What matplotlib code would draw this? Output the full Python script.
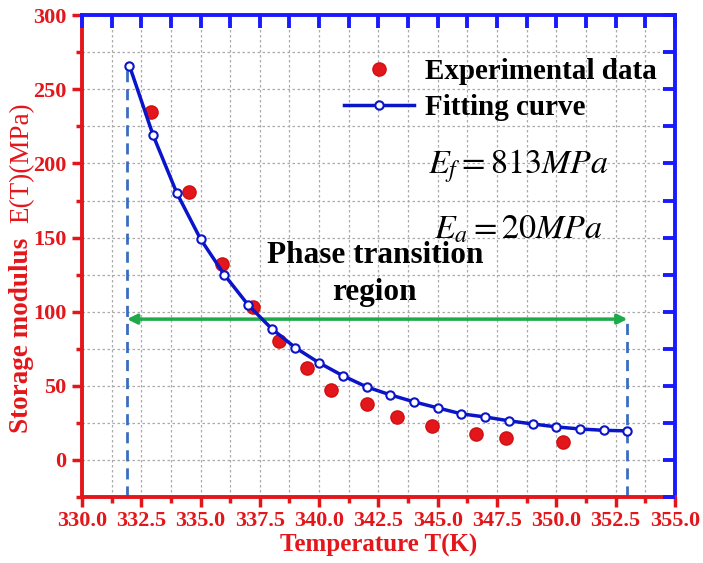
import matplotlib
matplotlib.use("Agg")
import matplotlib.pyplot as plt
from matplotlib.ticker import MultipleLocator, FormatStrFormatter, NullLocator

plt.rcParams['font.family'] = ['Liberation Serif', 'DejaVu Serif']
plt.rcParams['mathtext.fontset'] = 'stix'

# Experimental data
exp_T = [332.9, 334.5, 335.9, 337.2, 338.3, 339.5, 340.5, 342.0, 343.3, 344.75, 346.6, 347.9, 350.3]
exp_E = [235, 180.5, 132.5, 103, 80, 62, 47.5, 37.5, 29, 23, 17.6, 15, 12.2]

# Fitting curve
fit_T = [332, 333, 334, 335, 336, 337, 338, 339, 340, 341, 342, 343, 344, 345, 346, 347, 348, 349, 350, 351, 352, 353]
fit_E = [266, 219, 180, 149, 125, 104.7, 88.5, 75.7, 65.5, 56.8, 49.3, 43.9, 39.2, 35.1, 31.1, 29.0, 26.4, 24.3, 22.3, 20.9, 20.0, 19.6]

# Phase transition region
region_T = [331.9, 353.0]
region_E_arrow = 95
left_top = 266
right_top = 95

RED = '#e3161b'
BLUE = '#0a14c8'
SPINE_BLUE = '#1a1aff'

fig = plt.figure(figsize=(7.03, 5.63), dpi=100)
pos = [0.1166, 0.1172, 0.8434, 0.8558]
ax = fig.add_axes(pos)

ax.set_xlim(330, 355)
ax.set_ylim(-25, 300)

ax.xaxis.set_major_locator(MultipleLocator(2.5))
ax.xaxis.set_minor_locator(MultipleLocator(1.25))
ax.yaxis.set_major_locator(MultipleLocator(50))
ax.yaxis.set_minor_locator(MultipleLocator(25))
ax.xaxis.set_major_formatter(FormatStrFormatter('%.1f'))
ax.grid(True, which='both', color='#aaaaaa', linestyle=(0, (2, 2)), linewidth=0.9)
ax.set_axisbelow(True)

# dashed verticals
ax.plot([region_T[0], region_T[0]], [-25, left_top], color='#3c6cc0', linestyle=(0, (4, 2.5)), lw=2, zorder=2)
ax.plot([region_T[1], region_T[1]], [-25, right_top], color='#3c6cc0', linestyle=(0, (4, 2.5)), lw=2, zorder=2)

# arrow
ax.annotate('', xy=(region_T[1], region_E_arrow), xytext=(region_T[0], region_E_arrow),
            arrowprops=dict(arrowstyle='<|-|>', color='#1faa4a', lw=2.5,
                            mutation_scale=14, shrinkA=0, shrinkB=0), zorder=3)

ax.plot(exp_T, exp_E, 'o', color=RED, markersize=9.5, markeredgecolor='#d01010',
        label='Experimental data', zorder=4, linestyle='none')
ax.plot(fit_T, fit_E, '-o', color=BLUE, lw=2.5, markersize=6, markerfacecolor='white',
        markeredgecolor=BLUE, markeredgewidth=1.5, label='Fitting curve', zorder=5)

# spines
for s in ['left', 'bottom']:
    ax.spines[s].set_color(RED)
    ax.spines[s].set_linewidth(2.8)
for s in ['top', 'right']:
    ax.spines[s].set_color(SPINE_BLUE)
    ax.spines[s].set_linewidth(2.8)

ax.tick_params(axis='x', which='major', direction='out', length=7, width=2.5, color=RED,
               labelcolor=RED, labelsize=16, pad=3, top=False)
ax.tick_params(axis='x', which='minor', direction='out', length=4, width=2.5, color=RED, top=False)
ax.tick_params(axis='y', which='major', direction='out', length=7, width=2.5, color=RED,
               labelcolor=RED, labelsize=16, pad=4, right=False)
ax.tick_params(axis='y', which='minor', direction='out', length=4, width=2.5, color=RED, right=False)
for lab in ax.get_xticklabels() + ax.get_yticklabels():
    lab.set_fontweight('bold')

# overlay axes for top and right inward blue ticks
ax2 = fig.add_axes(pos, facecolor='none', zorder=5)
ax2.set_xlim(330, 355)
ax2.set_ylim(-25, 300)
for s in ax2.spines.values():
    s.set_visible(False)
ax2.xaxis.set_ticks_position('top')
ax2.yaxis.set_ticks_position('right')
ax2.xaxis.set_major_locator(MultipleLocator(1.25))
ax2.yaxis.set_major_locator(MultipleLocator(25))
ax2.xaxis.set_minor_locator(NullLocator())
ax2.yaxis.set_minor_locator(NullLocator())
ax2.tick_params(axis='x', which='major', direction='in', length=9, width=2.8, color=SPINE_BLUE,
                labeltop=False, labelbottom=False)
ax2.tick_params(axis='y', which='major', direction='in', length=9, width=2.8, color=SPINE_BLUE,
                labelright=False, labelleft=False)

ax.set_xlabel('Temperature T(K)', color=RED, fontsize=18, fontweight='bold', labelpad=2)

# y label in two parts
fig.text(0.031, 0.405, 'Storage modulus', rotation=90, color=RED, fontsize=19.5,
         fontweight='bold', ha='center', va='center')
fig.text(0.031, 0.711, 'E(T)(MPa)', rotation=90, color=RED, fontsize=19.5,
         ha='center', va='center')

leg = ax.legend(loc='upper left', bbox_to_anchor=(0.4215, 0.935), frameon=False,
                prop={'weight': 'bold', 'size': 21}, handlelength=2.4, handletextpad=0.4,
                labelspacing=0.3, borderaxespad=0)

ax.text(348.4, 198, r'$E_f = 813MPa$', fontsize=24.5, ha='center', va='center')
ax.text(348.4, 155, r'$E_a = 20MPa$', fontsize=24.5, ha='center', va='center')

ax.text(342.35, 138, 'Phase transition', fontsize=22.5, fontweight='bold', ha='center', va='center')
ax.text(342.35, 113, 'region', fontsize=22.5, fontweight='bold', ha='center', va='center')

fig.savefig('out.png', dpi=100)
